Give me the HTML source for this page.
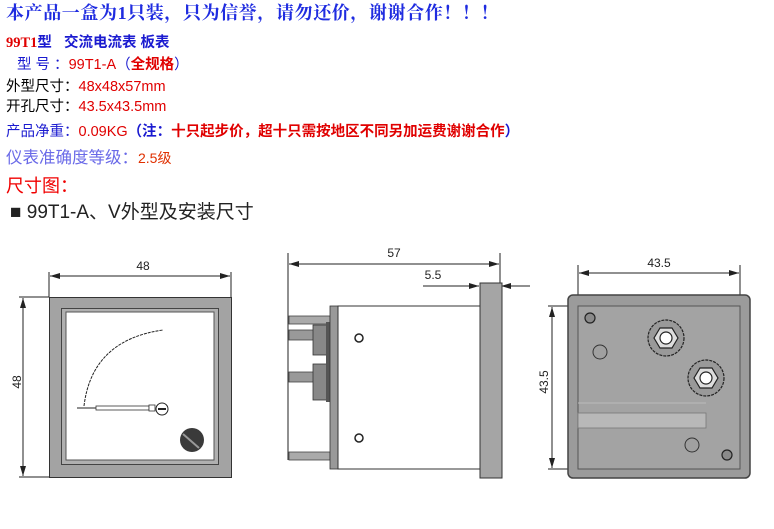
<!DOCTYPE html>
<html><head><meta charset="utf-8"><style>
body{margin:0;width:774px;height:529px;background:#fff;overflow:hidden;position:relative;font-family:"Liberation Sans","Noto Sans CJK SC",sans-serif}
.t{position:absolute;white-space:nowrap;line-height:1}
</style></head><body>
<div class="t" style="left:6px;top:4px;font-size:18px;letter-spacing:0.6px;font-weight:bold;color:#1f2ce0;font-family:'Liberation Serif','Noto Serif CJK SC',serif">本产品一盒为1只装，只为信誉，请勿还价，谢谢合作！！！</div>
<div class="t" style="left:6px;top:36px;font-size:14.5px;font-weight:bold;color:#1a1ad0"><span style="color:#e00000;font-family:'Liberation Serif',serif">99T1</span>型&nbsp;&nbsp; 交流电流表 板表</div>
<div class="t" style="left:17px;top:58px;font-size:14.5px;color:#1a1ad0">型 号 ：<span style="color:#e00000">99T1-A</span>（<b style="color:#e00000">全规格</b>）</div>
<div class="t" style="left:6px;top:80px;font-size:14.5px;color:#000">外型尺寸：<span style="color:#e00000">48x48x57mm</span></div>
<div class="t" style="left:6px;top:100px;font-size:14.5px;color:#000">开孔尺寸：<span style="color:#e00000">43.5x43.5mm</span></div>
<div class="t" style="left:6px;top:125px;font-size:14.5px;color:#1a1ad0">产品净重：<span style="color:#e00000">0.09KG</span><b>（注：<span style="color:#e00000">十只起步价，超十只需按地区不同另加运费谢谢合作</span>）</b></div>
<div class="t" style="left:6px;top:150px;font-size:16.5px;color:#6a6ae8">仪表准确度等级：<span style="color:#e03000;font-size:14px">2.5级</span></div>
<div class="t" style="left:6px;top:177px;font-size:18px;color:#f00000">尺寸图：</div>
<div class="t" style="left:10px;top:203px;font-size:19px;color:#222">■ 99T1-A、V外型及安装尺寸</div>
<svg width="774" height="529" style="position:absolute;left:0;top:0" font-family="Liberation Sans, sans-serif">
<defs><marker id="a" markerWidth="10" markerHeight="6" refX="10" refY="3" orient="auto"><path d="M0,0L10,3L0,6z" fill="#222"/></marker></defs>
<g stroke="#222" stroke-width="1" fill="none">
<line x1="49" y1="272" x2="49" y2="297"/><line x1="231" y1="272" x2="231" y2="297"/>
<line x1="140" y1="276" x2="50" y2="276" marker-end="url(#a)"/><line x1="140" y1="276" x2="230" y2="276" marker-end="url(#a)"/>
<line x1="19" y1="297" x2="49" y2="297"/><line x1="19" y1="477" x2="49" y2="477"/>
<line x1="23" y1="387" x2="23" y2="298" marker-end="url(#a)"/><line x1="23" y1="387" x2="23" y2="476" marker-end="url(#a)"/>
<line x1="288" y1="253" x2="288" y2="460"/><line x1="500" y1="253" x2="500" y2="478"/>
<line x1="394" y1="264" x2="289" y2="264" marker-end="url(#a)"/><line x1="394" y1="264" x2="499" y2="264" marker-end="url(#a)"/>
<line x1="423" y1="286" x2="479" y2="286" marker-end="url(#a)"/><line x1="530" y1="286" x2="501" y2="286" marker-end="url(#a)"/>
<line x1="578" y1="265" x2="578" y2="306"/><line x1="740" y1="265" x2="740" y2="306"/>
<line x1="659" y1="273" x2="579" y2="273" marker-end="url(#a)"/><line x1="659" y1="273" x2="739" y2="273" marker-end="url(#a)"/>
<line x1="548" y1="306" x2="578" y2="306"/><line x1="548" y1="469" x2="578" y2="469"/>
<line x1="552" y1="388" x2="552" y2="307" marker-end="url(#a)"/><line x1="552" y1="388" x2="552" y2="468" marker-end="url(#a)"/>
</g>
<g font-size="12" fill="#222" text-anchor="middle">
<text x="143" y="270">48</text>
<text transform="translate(21,382) rotate(-90)">48</text>
<text x="394" y="257">57</text>
<text x="433" y="279">5.5</text>
<text x="659" y="267">43.5</text>
<text transform="translate(548,382) rotate(-90)">43.5</text>
</g>
<rect x="49.5" y="297.5" width="182" height="180" fill="#a3a3a3" stroke="#333"/>
<rect x="61.5" y="308.5" width="157" height="156" fill="#b0b0b0" stroke="#444"/>
<rect x="66" y="312" width="148" height="148" fill="#fff" stroke="#555"/>
<path d="M84,406 Q92,340 163,330" fill="none" stroke="#222" stroke-dasharray="3,1"/>
<line x1="77" y1="408" x2="96" y2="408" stroke="#222"/>
<rect x="96" y="406" width="53" height="4" fill="#fff" stroke="#333" stroke-width="0.8"/>
<rect x="149" y="405" width="6" height="6" fill="#fff" stroke="#333" stroke-width="0.8"/>
<circle cx="162" cy="409" r="6" fill="#fff" stroke="#222"/><rect x="158" y="408" width="8" height="2" fill="#222"/>
<circle cx="192" cy="440" r="12" fill="#3a3a3a"/><line x1="183" y1="434" x2="199" y2="448" stroke="#999" stroke-width="2"/>
<rect x="289" y="316" width="41" height="8" fill="#aaa" stroke="#444" stroke-width="0.8"/>
<rect x="289" y="330" width="30" height="10" fill="#999" stroke="#444" stroke-width="0.8"/>
<rect x="313" y="325" width="14" height="30" fill="#888" stroke="#333" stroke-width="0.8"/>
<rect x="289" y="372" width="30" height="10" fill="#999" stroke="#444" stroke-width="0.8"/>
<rect x="313" y="364" width="14" height="36" fill="#888" stroke="#333" stroke-width="0.8"/>
<rect x="289" y="452" width="41" height="8" fill="#aaa" stroke="#444" stroke-width="0.8"/>
<rect x="326" y="322" width="5" height="80" fill="#555"/>
<rect x="330" y="306" width="8" height="163" fill="#999" stroke="#333" stroke-width="0.8"/>
<rect x="338" y="306" width="142" height="163" fill="#fff" stroke="#333"/>
<rect x="480" y="283" width="22" height="195" fill="#a5a5a5" stroke="#333"/>
<circle cx="359" cy="338" r="4" fill="#fff" stroke="#222" stroke-width="1.5"/>
<circle cx="359" cy="438" r="4" fill="#fff" stroke="#222" stroke-width="1.5"/>
<rect x="568" y="295" width="182" height="183" rx="5" fill="#9b9b9b" stroke="#444" stroke-width="1.5"/>
<rect x="578" y="306" width="162" height="163" fill="#a3a3a3" stroke="#555"/>
<rect x="578" y="413" width="128" height="15" fill="#b8b8b8" stroke="#777" stroke-width="0.8"/>
<line x1="578" y1="403" x2="706" y2="403" stroke="#bbb"/>
<circle cx="590" cy="318" r="5" fill="#8a8a8a" stroke="#222" stroke-width="1.2"/>
<circle cx="600" cy="352" r="7" fill="#a0a0a0" stroke="#333"/>
<circle cx="692" cy="445" r="7" fill="#a0a0a0" stroke="#333"/>
<circle cx="727" cy="455" r="5" fill="#8a8a8a" stroke="#222" stroke-width="1.2"/>
<g stroke="#222" stroke-width="1.2">
<circle cx="666" cy="338" r="18" fill="#999" stroke-dasharray="3,1"/>
<polygon points="678,338 672,348 660,348 654,338 660,328 672,328" fill="#ddd"/>
<circle cx="666" cy="338" r="6" fill="#fff"/>
<circle cx="706" cy="378" r="18" fill="#999" stroke-dasharray="3,1"/>
<polygon points="718,378 712,388 700,388 694,378 700,368 712,368" fill="#ddd"/>
<circle cx="706" cy="378" r="6" fill="#fff"/>
</g>
</svg>
</body></html>
